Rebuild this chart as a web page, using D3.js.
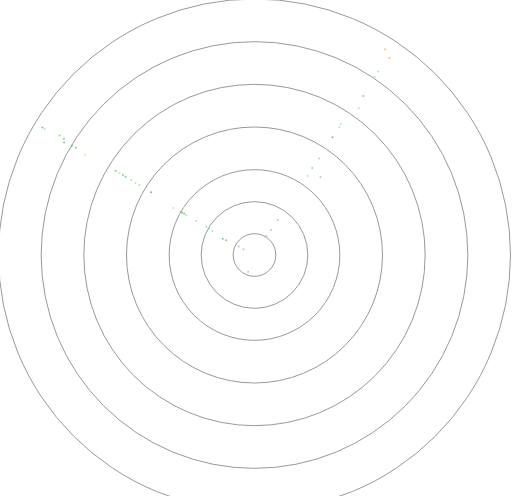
<!DOCTYPE html>
<html>
<head>
<meta charset="utf-8">
<script src="https://d3js.org/d3.v7.min.js"></script>
<style>
  body { margin: 0; background: #fff; }
</style>
</head>
<body>
<script>
  // ring values (distance units)
  var rings = [1, 2.5, 4, 6, 8, 10, 12];

  // points: azimuth in degrees (clockwise from top), distance, colour value
  var azimuth = [301.0, 301.0, 301.5, 301.4, 300.6, 300.9, 301.0, 300.6, 301.3, 301.2,
                 301.3, 301.3, 301.3, 301.2, 301.3, 301.2, 300.1, 300.3, 300.4, 300.5,
                 300.4, 300.3, 300.4, 299.6, 299.6, 297.2, 297.5, 298.4, 297.4, 200.7,
                 32.4, 34.4, 34.0, 34.0, 34.4, 35.4, 33.4, 33.6, 33.5, 33.8,
                 33.6, 33.9, 40.1, 33.7, 33.7, 31.6];
  var distance = [11.60, 11.47, 10.72, 10.47, 10.37, 9.98, 9.77, 9.22, 7.61, 7.40,
                  7.22, 7.07, 6.77, 6.52, 6.32, 5.67, 4.39, 4.02, 3.94, 3.83,
                  3.71, 3.16, 2.62, 2.46, 2.28, 1.67, 1.49, 0.84, 0.58, 0.84,
                  11.42, 11.19, 10.37, 10.08, 9.03, 8.44, 7.35, 7.19, 6.62, 5.45,
                  4.89, 4.46, 4.80, 1.97, 1.41, 1.05];
  var colourValue = [0.62, 0.45, 0.7, 0.55, 0.55, 0.62, 0.55, 0.8, 0.55, 0.45,
                     0.55, 0.55, 0.45, 0.45, 0.45, 0.58, 0.45, 1.0, 0.58, 0.55,
                     0.45, 0.42, 0.3, 0.32, 0.45, 0.55, 0.55, 0.05, 0.05, 0.05,
                     1.0, 1.0, 0.45, 0.45, 0.55, 0.45, 0.45, 0.45, 0.55, 0.38,
                     0.2, 0.45, 0.05, 0.05, 0.05, 0.05];

  var width = 515, height = 496;
  var cx = 254.5, cy = 255;

  var svg = d3.select("body")
              .append("svg")
              .attr("width", width)
              .attr("height", height);

  var g = svg.append("g")
             .attr("transform", "translate(" + cx + "," + cy + ")");

  var r = d3.scaleLinear().domain([0, 12]).range([0, 256]);
  var ang = d3.scaleLinear().domain([0, 360]).range([0, 2 * Math.PI]);
  var colour = d3.scaleLinear()
                 .domain([0, 0.25, 0.45, 0.6, 0.8, 1])
                 .range(["#b4b0ff", "#66d0f0", "#9cecA0", "#33c055", "#eaea70", "#ffb060"]);

  // rings
  g.selectAll("circle.ring")
   .data(rings)
   .enter().append("circle")
   .attr("class", "ring")
   .attr("r", function(d) { return r(d); })
   .style("fill", "none")
   .style("stroke", "#999")
   .style("stroke-width", 1);

  var pts = azimuth.map(function(a, i) {
    return { az: a, dist: distance[i], v: colourValue[i] };
  });

  g.selectAll("circle.pt")
   .data(pts)
   .enter().append("circle")
   .attr("class", "pt")
   .attr("cx", function(d) { return r(d.dist) * Math.sin(ang(d.az)); })
   .attr("cy", function(d) { return -r(d.dist) * Math.cos(ang(d.az)); })
   .attr("r", 1)
   .style("opacity", 0.85)
   .style("fill", function(d) { return colour(d.v); });
</script>
</body>
</html>
